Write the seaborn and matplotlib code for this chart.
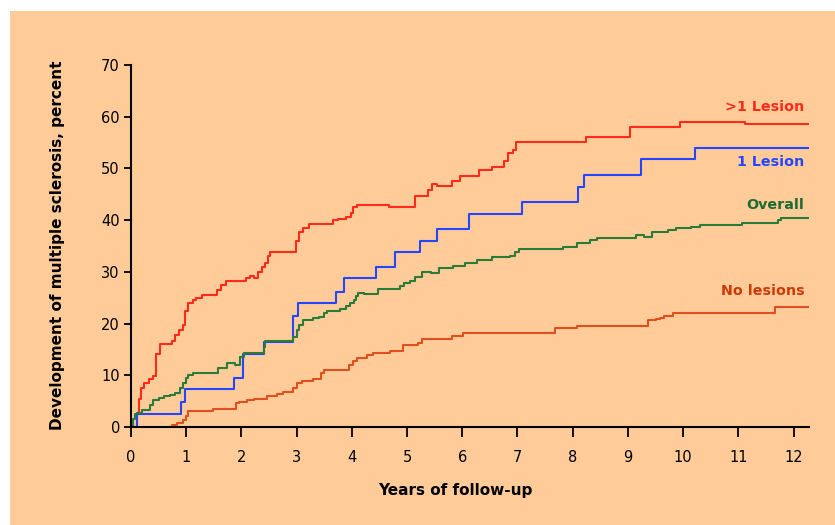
import matplotlib
matplotlib.use('Agg')
import pandas as pd
import seaborn as sns
from matplotlib import pyplot as plt
from matplotlib.patches import Rectangle

# cumulative percent developing MS (step functions)
MULTI_T = [0.0, 0.1, 0.14, 0.18, 0.24, 0.32, 0.4, 0.46, 0.53, 0.75, 0.8, 0.87, 0.95, 0.98,
           1.03, 1.12, 1.18, 1.28, 1.55, 1.63, 1.72, 2.08, 2.15, 2.22, 2.3, 2.38, 2.43, 2.48,
           2.52, 2.99, 3.05, 3.12, 3.23, 3.65, 3.75, 3.9, 3.99, 4.02, 4.1, 4.67, 5.14, 5.38,
           5.46, 5.54, 5.81, 5.96, 6.3, 6.53, 6.76, 6.82, 6.92, 6.98, 8.24, 9.03, 9.95,
           11.12, 12.28]
MULTI_PCT = [0, 2.7, 5.5, 7.5, 8.5, 9.2, 9.8, 14.1, 16.0, 16.6, 17.8, 18.8, 19.7, 22.5,
             24.0, 24.6, 25.0, 25.5, 26.5, 27.4, 28.3, 28.8, 29.2, 28.8, 30.0, 31.0, 31.7, 33.0,
             33.8, 36.0, 37.8, 38.5, 39.3, 40.0, 40.3, 40.7, 41.3, 42.6, 42.9, 42.6, 44.7, 45.8,
             46.9, 46.6, 47.6, 48.5, 49.6, 50.3, 51.5, 53.0, 53.6, 55.2, 56.1, 58.0, 59.0,
             58.6, 58.6]

ONE_T = [0.0, 0.1, 0.9, 0.98, 1.87, 2.02, 2.4, 2.94, 3.03, 3.71, 3.86, 4.43, 4.78, 5.24,
         5.54, 6.13, 7.08, 8.09, 8.2, 9.23, 10.22, 12.28]
ONE_PCT = [0, 2.5, 4.9, 7.3, 9.5, 14.1, 16.5, 21.5, 23.9, 26.2, 28.8, 31.0, 33.8, 36.0,
           38.3, 41.1, 43.6, 46.5, 48.7, 51.8, 53.9, 53.9]

ALL_T = [0.0, 0.03, 0.07, 0.1, 0.2, 0.34, 0.4, 0.5, 0.6, 0.7, 0.8, 0.89, 0.95, 1.0, 1.04,
         1.13, 1.58, 1.73, 1.88, 1.97, 2.05, 2.4, 2.43, 2.94, 3.0, 3.05, 3.11, 3.3, 3.41, 3.5,
         3.55, 3.79, 3.9, 3.97, 4.03, 4.08, 4.12, 4.22, 4.48, 4.87, 4.95, 5.05, 5.15, 5.27,
         5.44, 5.57, 5.84, 6.05, 6.26, 6.53, 6.87, 6.95, 7.02, 7.83, 8.07, 8.32, 8.44, 9.15,
         9.3, 9.43, 9.73, 9.88, 10.15, 10.3, 11.06, 11.72, 11.78, 12.28]
ALL_PCT = [0, 1.5, 2.5, 2.8, 3.2, 4.2, 5.2, 5.6, 5.9, 6.2, 6.5, 7.5, 8.5, 9.5, 10.1,
           10.5, 11.5, 12.3, 12.0, 13.5, 14.4, 15.5, 16.7, 17.5, 18.8, 19.8, 20.7, 21.0, 21.3, 22.0,
           22.4, 22.8, 23.4, 24.0, 24.6, 25.3, 25.9, 25.7, 26.7, 27.3, 27.8, 28.3, 29.0, 30.0,
           29.7, 30.7, 31.1, 31.7, 32.2, 32.8, 33.1, 33.8, 34.4, 34.9, 35.6, 36.2, 36.5, 37.1,
           36.8, 37.8, 38.1, 38.4, 38.7, 39.1, 39.4, 40.0, 40.5, 40.5]

NONE_T = [0.65, 0.75, 0.83, 0.95, 1.0, 1.04, 1.49, 1.9, 1.96, 2.1, 2.22, 2.46, 2.64, 2.76,
          2.94, 3.0, 3.09, 3.3, 3.45, 3.5, 3.94, 4.02, 4.1, 4.27, 4.39, 4.69, 4.93, 5.2,
          5.27, 5.81, 6.02, 7.68, 8.07, 9.37, 9.5, 9.58, 9.65, 9.82, 11.67, 12.28]
NONE_PCT = [0, 0.4, 0.8, 1.35, 2.2, 3.1, 3.4, 4.6, 4.9, 5.2, 5.5, 6.0, 6.3, 6.8,
            7.5, 8.5, 8.9, 9.2, 10.5, 11.0, 12.0, 12.8, 13.3, 13.9, 14.3, 14.7, 15.9, 16.2,
            17.0, 17.6, 18.1, 19.1, 19.6, 20.6, 20.8, 21.0, 21.5, 22.0, 23.3, 23.3]

GROUPS = ['>1 Lesion', '1 Lesion', 'Overall', 'No lesions']
LINE_COLORS = ['#ff2a1a', '#2446ff', '#2a7a3a', '#e0501e']
LABEL_COLORS = ['#ff2a1a', '#2446ff', '#1c6b30', '#cc3a08']
LABEL_Y = [61.9, 51.3, 42.9, 26.3]

X_TICKS = list(range(0, 13))
Y_TICKS = list(range(0, 71, 10))

BG = '#ffcc99'


def main():
    sns.set_style('ticks')
    plt.rcParams['font.family'] = ['DejaVu Sans']

    fig = plt.figure(figsize=(8.35, 5.25), dpi=100, facecolor='white')
    # peach panel, with a thin white margin at top and left like the original scan
    fig.patches.append(Rectangle((10 / 835, 0), 1, 1 - 11 / 525, transform=fig.transFigure,
                                 facecolor=BG, edgecolor='none', zorder=-1))

    ax = fig.add_axes([131 / 835, 1 - 427 / 525, 678 / 835, 362 / 525])
    ax.set_facecolor(BG)

    series = [(MULTI_T, MULTI_PCT), (ONE_T, ONE_PCT), (ALL_T, ALL_PCT), (NONE_T, NONE_PCT)]
    for (t, pct), color in zip(series, LINE_COLORS):
        df = pd.DataFrame({'years': t, 'pct': pct})
        sns.lineplot(x='years', y='pct', data=df, estimator=None, sort=False,
                     drawstyle='steps-post', color=color, linewidth=1.5, ax=ax)

    for name, color, y in zip(GROUPS, LABEL_COLORS, LABEL_Y):
        ax.text(12.2, y, name, color=color, fontsize=10.3, fontweight='bold',
                ha='right', va='center')

    ax.set_xlim(0, 12.28)
    ax.set_ylim(0, 70)
    ax.set_xticks(X_TICKS)
    ax.set_yticks(Y_TICKS)
    ax.tick_params(axis='x', length=7.5, width=1.3, pad=9, labelsize=10.5, colors='black')
    ax.tick_params(axis='y', length=5, width=1.3, pad=3, labelsize=10.5, colors='black')
    sns.despine(ax=ax)
    for side in ['left', 'bottom']:
        ax.spines[side].set_linewidth(1.5)
        ax.spines[side].set_color('black')

    ax.set_xlabel('Years of follow-up', fontsize=11, fontweight='bold', color='black')
    ax.xaxis.set_label_coords(0.478, -0.155)
    ax.set_ylabel('Development of multiple sclerosis, percent', fontsize=11,
                  fontweight='bold', color='black')
    ax.yaxis.set_label_coords(-0.098, 0.503)

    fig.savefig('out.png', dpi=100, facecolor=fig.get_facecolor())


if __name__ == '__main__':
    main()
